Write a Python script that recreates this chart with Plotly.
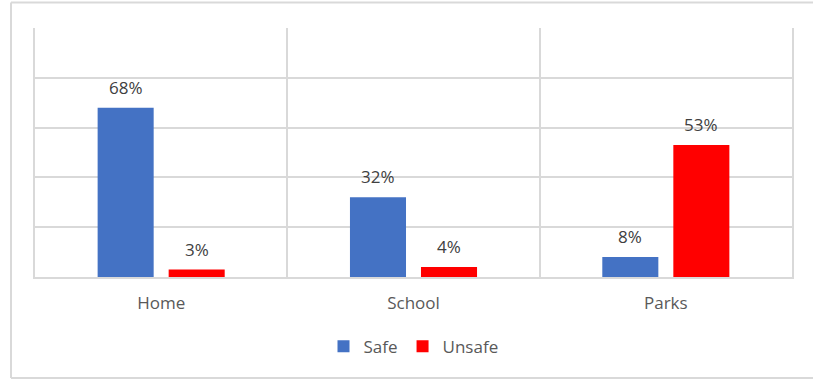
import plotly.graph_objects as go

# Survey results: share of respondents feeling safe / unsafe by location
places = ["Home", "School", "Parks"]
safe = [68, 32, 8]
unsafe = [3, 4, 53]

W, H = 814, 381
ML, MR, MT, MB = 35, 22, 28, 104
BARGAP = 0.437
GROUPGAP = 0.211

BLUE = "#4472C4"
RED = "#FF0000"
GRID = "#D9D9D9"
FONT = "'Open Sans', Lato, sans-serif"
FS = 17

fig = go.Figure()
fig.add_trace(go.Bar(name="Safe", x=places, y=safe, marker_color=BLUE,
                     marker_line_width=0))
fig.add_trace(go.Bar(name="Unsafe", x=places, y=unsafe, marker_color=RED,
                     marker_line_width=0))

# value labels above each bar
slot = (1 - BARGAP) / 2
offsets = [-slot / 2, slot / 2]
for vals, off in zip([safe, unsafe], offsets):
    for i, v in enumerate(vals):
        fig.add_annotation(x=i + off, y=v, xref="x", yref="y",
                           text=f"{v}%", showarrow=False, yanchor="bottom",
                           yshift=7, font=dict(family=FONT, size=FS, color="#404040"))

# outer chart frame: top, left and bottom edges
pw = W - ML - MR
ph = H - MT - MB
fx0, fx1 = (11 - ML) / pw, (W - 1 - ML) / pw
fy0, fy1 = (H - MB - 378) / ph, (H - MB - 2.5) / ph
frame = dict(color=GRID, width=2)
for x0, y0, x1, y1 in [(fx0, fy1, fx1, fy1), (fx0, fy0, fx0, fy1), (fx0, fy0, fx1, fy0)]:
    fig.add_shape(type="line", xref="paper", yref="paper",
                  x0=x0, y0=y0, x1=x1, y1=y1, line=frame, layer="below")

fig.update_layout(
    width=W, height=H,
    margin=dict(l=ML, r=MR, t=MT, b=MB),
    paper_bgcolor="white", plot_bgcolor="white",
    barmode="group", bargap=BARGAP, bargroupgap=GROUPGAP,
    font=dict(family=FONT, size=FS, color="#595959"),
    showlegend=True,
    legend=dict(orientation="h", x=0.5, xanchor="center", y=-0.28, yanchor="middle",
                font=dict(family=FONT, size=FS, color="#595959"),
                itemwidth=30, traceorder="normal"),
    xaxis=dict(type="category", tickson="boundaries", showgrid=True, gridcolor=GRID,
               gridwidth=1.5, showline=True, linecolor=GRID, linewidth=1.5,
               ticks="", ticklabelstandoff=10,
               tickfont=dict(family=FONT, size=FS, color="#595959"),
               range=[-0.5, 2.5]),
    yaxis=dict(range=[0, 100], dtick=20, showticklabels=False, showgrid=True,
               gridcolor=GRID, gridwidth=1.5, zeroline=False,
               showline=True, mirror=True, linecolor=GRID, linewidth=1.5),
)

fig.write_html("out.html")
